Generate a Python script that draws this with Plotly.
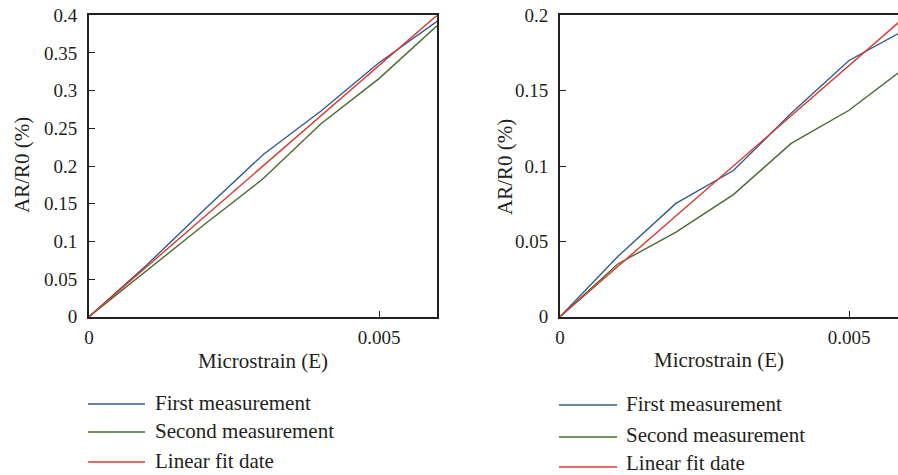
import plotly.graph_objects as go

# ---- data ----
strain = [0, 0.001, 0.002, 0.003, 0.004, 0.005, 0.006]

left_first = [0, 0.069, 0.143, 0.215, 0.273, 0.337, 0.392]
left_second = [0, 0.062, 0.123, 0.183, 0.256, 0.316, 0.386]
left_fit = [0, 0.0667, 0.1333, 0.2, 0.2667, 0.3333, 0.4]

right_first = [0, 0.040, 0.075, 0.097, 0.135, 0.170, 0.191]
right_second = [0, 0.035, 0.056, 0.081, 0.115, 0.137, 0.166]
right_fit = [0, 0.0333, 0.0667, 0.1, 0.1333, 0.1667, 0.2]

series_names = ["First measurement", "Second measurement", "Linear fit date"]
x_tickvals = [0, 0.005]
x_ticktext = ["0", "0.005"]
left_y_tickvals = [0, 0.05, 0.1, 0.15, 0.2, 0.25, 0.3, 0.35, 0.4]
left_y_ticktext = ["0", "0.05", "0.1", "0.15", "0.2", "0.25", "0.3", "0.35", "0.4"]
right_y_tickvals = [0, 0.05, 0.1, 0.15, 0.2]
right_y_ticktext = ["0", "0.05", "0.1", "0.15", "0.2"]
x_title = "Microstrain (E)"
y_title = "AR/R0 (%)"

colors = ["#335a8f", "#4a6b2e", "#d93a2e"]

W, H = 898, 475
FONT = "Liberation Serif"
INK = "#231f20"


def px_x(p):
    return p / W


def px_y(p):
    return 1 - p / H


fig = go.Figure()

for ys, c, n in zip([left_first, left_second, left_fit], colors, series_names):
    fig.add_trace(go.Scatter(x=strain, y=ys, mode="lines", name=n,
                             line=dict(color=c, width=1.4),
                             xaxis="x", yaxis="y", showlegend=False))
for ys, c, n in zip([right_first, right_second, right_fit], colors, series_names):
    fig.add_trace(go.Scatter(x=strain, y=ys, mode="lines", name=n,
                             line=dict(color=c, width=1.4),
                             xaxis="x2", yaxis="y2", showlegend=False))

axis_common = dict(showline=True, linecolor=INK, linewidth=1.8, ticks="inside",
                   ticklen=6, tickwidth=1, tickcolor=INK, showgrid=False,
                   zeroline=False, automargin=False,
                   tickfont=dict(family=FONT, size=19, color=INK))

y_top, y_bot = 15.3, 316.7

fig.update_layout(
    width=W, height=H,
    margin=dict(l=0, r=0, t=0, b=0, pad=0, autoexpand=False),
    paper_bgcolor="white", plot_bgcolor="white",
    showlegend=False,
    xaxis=dict(domain=[px_x(89), px_x(437)], range=[0, 0.006],
               tickvals=x_tickvals, ticktext=x_ticktext, mirror=True,
               ticklabelstandoff=3, anchor="y", **axis_common),
    yaxis=dict(domain=[px_y(y_bot), px_y(y_top)], range=[0, 0.4],
               tickvals=left_y_tickvals, ticktext=left_y_ticktext, mirror=True,
               ticklabelstandoff=6, anchor="x", **axis_common),
    xaxis2=dict(domain=[px_x(560), 1.0], range=[0, 0.005 * (898 - 560) / 289],
                tickvals=x_tickvals, ticktext=x_ticktext, mirror=True,
                ticklabelstandoff=3, anchor="y2", **axis_common),
    yaxis2=dict(domain=[px_y(y_bot), px_y(y_top)], range=[0, 0.2],
                tickvals=right_y_tickvals, ticktext=right_y_ticktext, mirror=False,
                ticklabelstandoff=6, anchor="x2", **axis_common),
)

title_font = dict(family=FONT, size=21, color=INK)
ann = []
# axis titles
ann.append(dict(x=px_x(263), y=px_y(361), text=x_title, showarrow=False,
                xref="paper", yref="paper", xanchor="center", yanchor="middle", font=title_font))
ann.append(dict(x=px_x(719), y=px_y(360), text=x_title, showarrow=False,
                xref="paper", yref="paper", xanchor="center", yanchor="middle", font=title_font))
ann.append(dict(x=px_x(22), y=px_y(165), text=y_title, showarrow=False, textangle=-90,
                xref="paper", yref="paper", xanchor="center", yanchor="middle", font=title_font))
ann.append(dict(x=px_x(505), y=px_y(167), text=y_title, showarrow=False, textangle=-90,
                xref="paper", yref="paper", xanchor="center", yanchor="middle", font=title_font))

shapes = []
# legends (left and right): line x0, line x1, text x, line rows, text rows
legend_specs = [
    (88, 145, 154, [404, 432, 462], [403, 431, 461]),
    (559, 617, 625, [405, 437, 467], [404, 435, 463]),
]
for x0, x1, tx, rows, trows in legend_specs:
    for yy, ty, c, n in zip(rows, trows, colors, series_names):
        shapes.append(dict(type="line", xref="paper", yref="paper",
                           x0=px_x(x0), x1=px_x(x1), y0=px_y(yy), y1=px_y(yy),
                           line=dict(color=c, width=1.4)))
        ann.append(dict(x=px_x(tx), y=px_y(ty), text=n, showarrow=False,
                        xref="paper", yref="paper", xanchor="left", yanchor="middle",
                        borderpad=0, font=title_font))

fig.update_layout(annotations=ann, shapes=shapes)

fig.write_html("out.html",
               config={"displayModeBar": False},
               post_script="document.body.style.margin='0';"
                           "document.body.style.overflow='hidden';")
